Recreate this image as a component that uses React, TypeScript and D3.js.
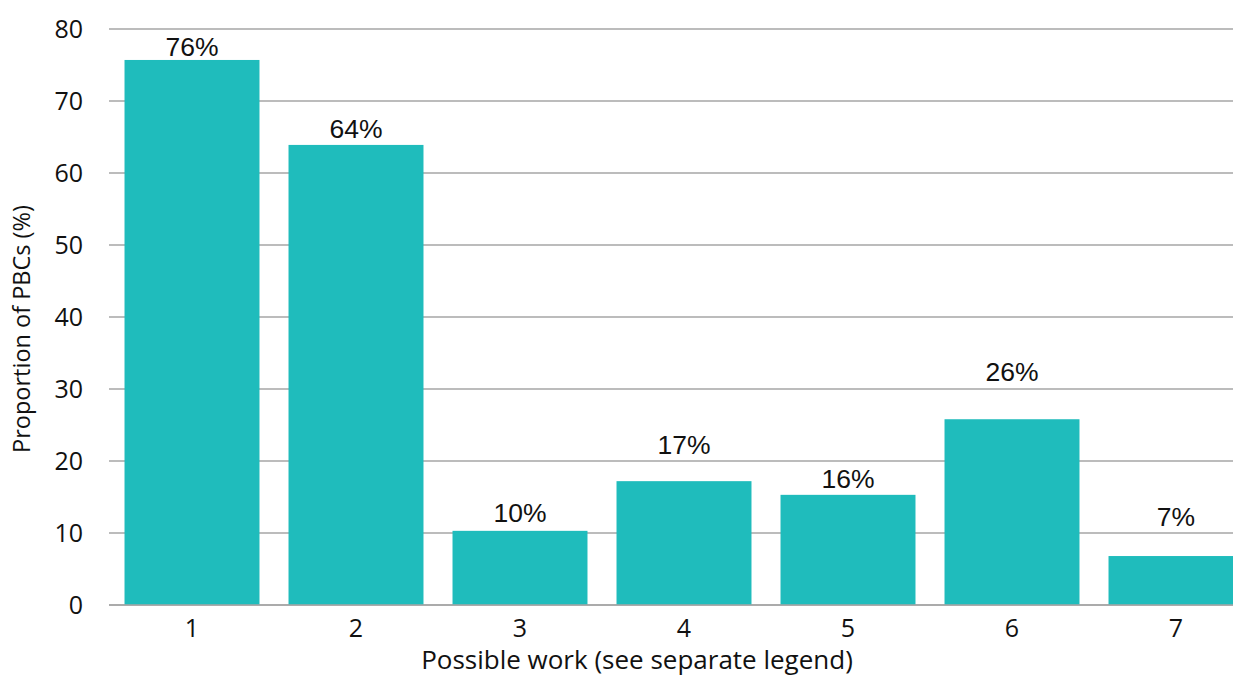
import React from "react";
import * as d3 from "d3";

const categories = ["1", "2", "3", "4", "5", "6", "7"];
const values = [75.7, 63.9, 10.3, 17.2, 15.3, 25.8, 6.8];
const valueLabels = ["76%", "64%", "10%", "17%", "16%", "26%", "7%"];
const labelValues = [77.6, 66.2, 12.8, 22.3, 17.6, 32.4, 12.2];
const yTicks = [0, 10, 20, 30, 40, 50, 60, 70, 80];

const W = 1233;
const H = 675;
const left = 110;
const step = 164;
const top = 29;
const bottom = 605;

export default function App() {
  const x = d3
    .scaleBand<string>()
    .domain(categories)
    .range([left, left + step * categories.length])
    .paddingInner(0.177)
    .paddingOuter(0.0885);
  const y = d3.scaleLinear().domain([0, 80]).range([bottom, top]);

  return (
    <svg
      width={W}
      height={H}
      style={{ position: "absolute", left: 0, top: 0, display: "block" }}
    >
      <rect x={0} y={0} width={W} height={H} fill="#fff" />
      {yTicks.map((t) => (
        <g key={t}>
          <line x1={109} x2={W} y1={y(t)} y2={y(t)} stroke="#a6a6a6" strokeWidth={1.3} />
          <text
            x={83}
            y={y(t)}
            dy="0.35em"
            textAnchor="end"
            fontFamily="'Open Sans', sans-serif"
            fontSize={25}
            fill="#111"
          >
            {t}
          </text>
        </g>
      ))}
      {categories.map((c, i) => (
        <g key={c}>
          <rect
            x={x(c)}
            y={y(values[i])}
            width={x.bandwidth()}
            height={y(0) - y(values[i])}
            fill="#1fbcbc"
          />
          <text
            x={(x(c) as number) + x.bandwidth() / 2}
            y={y(labelValues[i])}
            dy="0.35em"
            textAnchor="middle"
            fontFamily="'Liberation Sans', Arial, sans-serif"
            fontSize={26.5}
            fill="#111"
          >
            {valueLabels[i]}
          </text>
          <text
            x={(x(c) as number) + x.bandwidth() / 2}
            y={628}
            dy="0.35em"
            textAnchor="middle"
            fontFamily="'Open Sans', sans-serif"
            fontSize={25}
            fill="#111"
          >
            {c}
          </text>
        </g>
      ))}
      <line x1={109} x2={W} y1={y(0)} y2={y(0)} stroke="#a6a6a6" strokeWidth={1.3} />
      <text
        x={637}
        y={660}
        dy="0.35em"
        textAnchor="middle"
        fontFamily="'Open Sans', sans-serif"
        fontSize={26}
        fill="#111"
      >
        Possible work (see separate legend)
      </text>
      <text
        transform={`translate(22, 329) rotate(-90)`}
        dy="0.35em"
        textAnchor="middle"
        fontFamily="'Open Sans', sans-serif"
        fontSize={23.5}
        fill="#111"
      >
        Proportion of PBCs (%)
      </text>
    </svg>
  );
}
